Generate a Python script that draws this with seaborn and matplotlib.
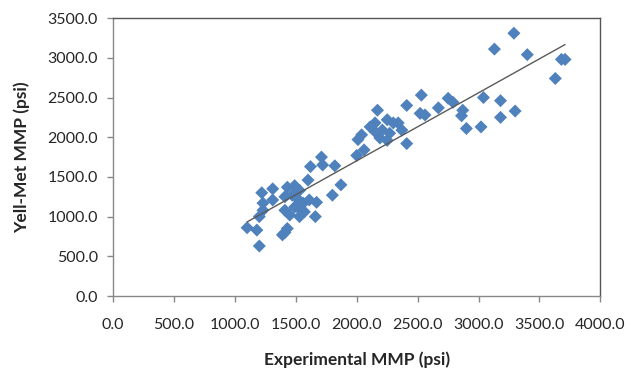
import numpy as np
import pandas as pd
import matplotlib
matplotlib.use('Agg')
import matplotlib.pyplot as plt
import seaborn as sns
from matplotlib.ticker import FormatStrFormatter

# 读图估计的数据点 (psi)
experimental_mmp = [
    1100, 1180, 1200, 1200, 1230, 1230, 1220, 1310, 1310, 1390,
    1430, 1410, 1410, 1450, 1430, 1490, 1410, 1470, 1510, 1530,
    1520, 1530, 1570, 1560, 1600, 1610, 1620, 1660, 1670, 1710,
    1720, 1800, 1820, 1870, 1490,
    2000, 2010, 2060, 2040, 2110, 2150, 2150, 2170, 2190, 2210,
    2250, 2250, 2270, 2300, 2340, 2370, 2410, 2410, 2530, 2520,
    2560, 2670, 2750, 2790, 2860, 2870, 2900, 3020, 3040, 3180,
    3180, 3300, 3130, 3290, 3400, 3630, 3680, 3710,
]
yellmet_mmp = [
    860, 830, 630, 1000, 1080, 1170, 1300, 1350, 1210, 770,
    850, 800, 1080, 1020, 1370, 1390, 1250, 1270, 1230, 1000,
    1110, 1330, 1060, 1170, 1460, 1210, 1630, 1000, 1180, 1750,
    1650, 1270, 1640, 1400, 1120,
    1770, 1970, 1840, 2030, 2130, 2180, 2070, 2340, 1990, 2090,
    2220, 1960, 2050, 2180, 2180, 2090, 2400, 1920, 2530, 2300,
    2280, 2370, 2490, 2440, 2270, 2340, 2110, 2130, 2500, 2460,
    2250, 2330, 3110, 3310, 3040, 2740, 2980, 2980,
]
x_ticks = np.arange(0, 4001, 500)
y_ticks = np.arange(0, 3501, 500)

df = pd.DataFrame({'exp': experimental_mmp, 'ym': yellmet_mmp})

sns.set_style('white')
plt.rcParams['font.family'] = ['Lato', 'DejaVu Sans']

fig = plt.figure(figsize=(6.32, 3.70), dpi=100)
ax = fig.add_axes([0.179, 0.2, 0.771, 0.751])

sns.regplot(data=df, x='exp', y='ym', ax=ax, ci=None, marker='D',
            scatter_kws={'s': 44, 'color': '#4F81BD', 'edgecolor': 'none',
                         'alpha': 1, 'zorder': 3},
            line_kws={'color': '#5a5a5a', 'linewidth': 1.0, 'zorder': 4})

ax.set_xlim(0, 4000)
ax.set_ylim(0, 3500)
ax.set_xticks(x_ticks)
ax.set_yticks(y_ticks)
ax.xaxis.set_major_formatter(FormatStrFormatter('%.1f'))
ax.yaxis.set_major_formatter(FormatStrFormatter('%.1f'))

for side in ['left', 'bottom']:
    ax.spines[side].set_color('#888888')
    ax.spines[side].set_linewidth(1.0)
for side in ['top', 'right']:
    ax.spines[side].set_color('#555555')
    ax.spines[side].set_linewidth(1.0)

ax.tick_params(axis='x', direction='out', length=4, width=1, color='#888888',
               labelsize=11.5, pad=12, bottom=True)
ax.tick_params(axis='y', direction='out', length=4, width=1, color='#888888',
               labelsize=11.5, pad=7, left=True)

ax.set_xlabel('Experimental MMP (psi)', fontsize=12.5, fontweight='bold', labelpad=14)
ax.set_ylabel('Yell-Met MMP (psi)', fontsize=12.5, fontweight='bold', labelpad=12)

fig.savefig('out.png', dpi=100)
